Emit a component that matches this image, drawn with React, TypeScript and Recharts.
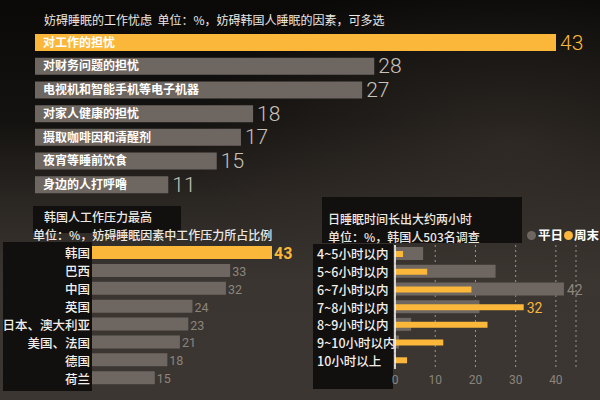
import React from 'react';
import { BarChart, Bar, XAxis, YAxis, Cell, LabelList, CartesianGrid } from 'recharts';

const topCategories = ['对工作的担忧', '对财务问题的担忧', '电视机和智能手机等电子机器', '对家人健康的担忧', '摄取咖啡因和清醒剂', '夜宵等睡前饮食', '身边的人打呼噜'];
const topValues = [43, 28, 27, 18, 17, 15, 11];

const countries = ['韩国', '巴西', '中国', '英国', '日本、澳大利亚', '美国、法国', '德国', '荷兰'];
const countryValues = [43, 33, 32, 24, 23, 21, 18, 15];

const sleepRanges = ['4~5小时以内', '5~6小时以内', '6~7小时以内', '7~8小时以内', '8~9小时以内', '9~10小时以内', '10小时以上'];
const weekdayValues = [7, 25, 42, 21, 4, 1, 0];
const weekendValues = [2, 8, 19, 32, 23, 12, 3];
const sleepTicks = [0, 10, 20, 30, 40];

const YELLOW = '#fbb73a';
const GRAY = '#6e6660';
const FONT = "'Noto Sans CJK SC', 'Noto Sans', sans-serif";
const NUMFONT = "Roboto, 'Liberation Sans', sans-serif";

const topData = topCategories.map((name, i) => ({ name, value: topValues[i] }));
const countryData = countries.map((name, i) => ({ name, value: countryValues[i] }));
const sleepData = sleepRanges.map((name, i) => ({ name, weekday: weekdayValues[i], weekend: weekendValues[i] }));

const wdMax = Math.max(...weekdayValues);
const weMax = Math.max(...weekendValues);

const Txt = ({ left, top, size = 12, color = '#ece8e3', weight = 500, children }: any) => (
  <div style={{ position: 'absolute', left, top, fontSize: size, lineHeight: '14px', height: 14, color, fontWeight: weight, fontFamily: FONT, whiteSpace: 'nowrap' }}>{children}</div>
);

const Box = ({ left, top, width, height, color = '#11100e' }: any) => (
  <div style={{ position: 'absolute', left, top, width, height, background: color }} />
);

const TopValueLabel = (props: any) => {
  const { x, y, width, height, value, index } = props;
  return (
    <text x={x + width + 4} y={y + height / 2} dominantBaseline="central" fontFamily={NUMFONT} fontWeight={300} fontSize={21} fill={index === 0 ? YELLOW : '#c9c2ba'}>{value}</text>
  );
};

const CountryValueLabel = (props: any) => {
  const { x, y, width, height, value, index } = props;
  const first = index === 0;
  return (
    <text x={x + width + 2} y={y + height / 2 + 1} dominantBaseline="central" fontFamily={NUMFONT} fontWeight={first ? 700 : 400} fontSize={first ? 16 : 12.5} fill={first ? YELLOW : '#8c857e'}>{value}</text>
  );
};

const CountryTick = (props: any) => {
  const { y, payload } = props;
  return (
    <text x={90} y={y} textAnchor="end" dominantBaseline="central" fontFamily={FONT} fontWeight={500} fontSize={12.5} fill="#f2efeb">{payload.value}</text>
  );
};

const SleepTick = (props: any) => {
  const { y, payload } = props;
  return (
    <text x={17} y={y} textAnchor="start" dominantBaseline="central" fontFamily={FONT} fontWeight={500} fontSize={12.5} fill="#f2efeb">{payload.value}</text>
  );
};

const makeMaxLabel = (max: number, color: string) => (props: any) => {
  const { x, y, width, height, value } = props;
  if (value !== max) return null;
  return (
    <text x={x + width + 3} y={y + height / 2 + 1} dominantBaseline="central" fontFamily={NUMFONT} fontSize={14} fill={color}>{value}</text>
  );
};

export default function App() {
  return (
    <div style={{ position: 'absolute', left: 0, top: 0, width: 600, height: 400, overflow: 'hidden', fontFamily: FONT,
      background: 'linear-gradient(to bottom, #0a0908 0%, #141210 30%, #2a2622 50%, #3a3530 70%, #3b3631 100%)' }}>
      <div style={{ position: 'absolute', left: 0, top: 0, width: 600, height: 400,
        background: 'radial-gradient(ellipse at 85% 35%, rgba(70,62,54,0.45) 0%, rgba(0,0,0,0) 45%)' }} />

      <Box left={33} top={206} width={148} height={27} />
      <Box left={3} top={242} width={89} height={149} />
      <Box left={322} top={197} width={200} height={46} />
      <Box left={313} top={244} width={80} height={145} />

      <Txt left={44} top={13} size={12} weight={400}>妨碍睡眠的工作忧虑&nbsp;&nbsp;单位：%，妨碍韩国人睡眠的因素，可多选</Txt>
      <Txt left={44} top={210}>韩国人工作压力最高</Txt>
      <Txt left={33} top={228}>单位：%，妨碍睡眠因素中工作压力所占比例</Txt>
      <Txt left={328} top={212}>日睡眠时间长出大约两小时</Txt>
      <Txt left={328} top={230}>单位：%，韩国人503名调查</Txt>

      <div style={{ position: 'absolute', left: 527, top: 228, display: 'flex', alignItems: 'center', fontSize: 12.5, fontWeight: 700, color: '#fff', whiteSpace: 'nowrap', lineHeight: '14px', height: 14 }}>
        <span style={{ display: 'inline-block', width: 9, height: 9, borderRadius: 5, background: '#6e6660', marginRight: 2 }} />
        <span>平日</span>
        <span style={{ display: 'inline-block', width: 9, height: 9, borderRadius: 5, background: YELLOW, margin: '0 1px 0 1px' }} />
        <span>周末</span>
      </div>

      <div style={{ position: 'absolute', left: 0, top: 0 }}>
        <BarChart layout="vertical" width={600} height={200} data={topData} margin={{ top: 31, right: 44, bottom: 3, left: 35 }}>
          <XAxis type="number" domain={[0, 43]} hide />
          <YAxis type="category" dataKey="name" hide />
          <Bar dataKey="value" barSize={17} isAnimationActive={false}>
            {topData.map((d, i) => <Cell key={d.name} fill={i === 0 ? YELLOW : GRAY} />)}
            <LabelList dataKey="name" position="insideLeft" offset={8} fill="#fff" fontSize={12} fontWeight={700} fontFamily={FONT} />
            <LabelList dataKey="value" content={TopValueLabel} />
          </Bar>
        </BarChart>
      </div>

      <div style={{ position: 'absolute', left: 0, top: 200 }}>
        <BarChart layout="vertical" width={300} height={200} data={countryData} margin={{ top: 44, right: 28, bottom: 13, left: 0 }}>
          <XAxis type="number" domain={[0, 43]} hide />
          <YAxis type="category" dataKey="name" width={92} axisLine={false} tickLine={false} tick={CountryTick} interval={0} />
          <Bar dataKey="value" barSize={13} isAnimationActive={false}>
            {countryData.map((d, i) => <Cell key={d.name} fill={i === 0 ? YELLOW : GRAY} />)}
            <LabelList dataKey="value" content={CountryValueLabel} />
          </Bar>
        </BarChart>
      </div>

      <div style={{ position: 'absolute', left: 300, top: 200 }}>
        <BarChart layout="vertical" width={300} height={200} data={sleepData} margin={{ top: 45, right: 24, bottom: 0, left: 0 }}>
          <CartesianGrid horizontal={false} vertical={true} strokeDasharray="2 3" stroke="#9a948e" yAxisId="a" />
          <XAxis type="number" domain={[0, 45]} ticks={sleepTicks} height={31} axisLine={false} tickLine={false} tickMargin={0}
            tick={{ fill: '#8b847d', fontSize: 12, fontFamily: NUMFONT }} />
          <YAxis yAxisId="a" type="category" dataKey="name" width={95} axisLine={{ stroke: '#ffffff', strokeWidth: 1.5 }} tickLine={false} tick={SleepTick} interval={0} />
          <YAxis yAxisId="b" type="category" dataKey="name" hide />
          <Bar yAxisId="a" dataKey="weekday" barSize={13} fill={GRAY} isAnimationActive={false}>
            <LabelList dataKey="weekday" content={makeMaxLabel(wdMax, '#8c857e')} />
          </Bar>
          <Bar yAxisId="b" dataKey="weekend" barSize={6} fill={YELLOW} isAnimationActive={false}>
            <LabelList dataKey="weekend" content={makeMaxLabel(weMax, YELLOW)} />
          </Bar>
        </BarChart>
      </div>
    </div>
  );
}
